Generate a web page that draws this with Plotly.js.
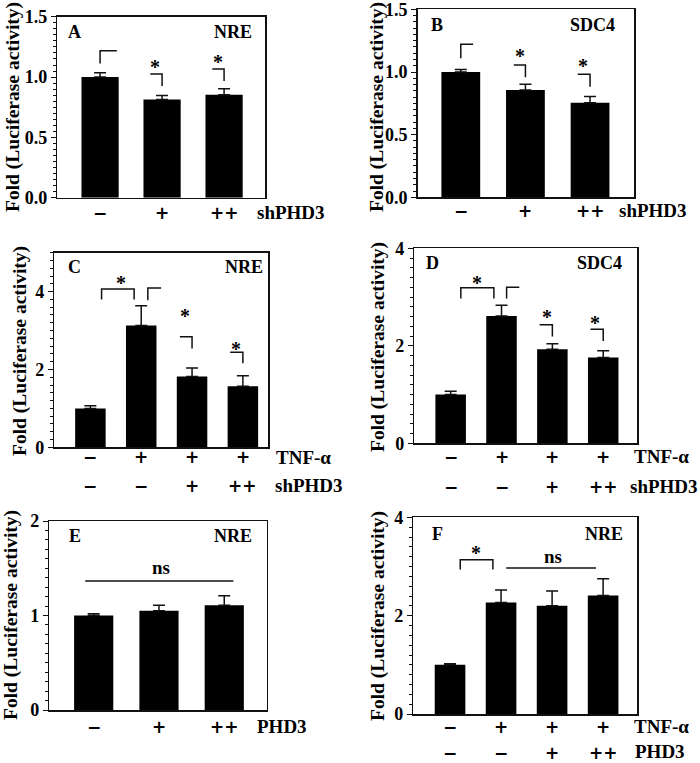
<!DOCTYPE html>
<html><head><meta charset="utf-8">
<script src="https://cdn.plot.ly/plotly-3.0.1.min.js"></script>
<style>html,body{margin:0;padding:0;background:#fff}</style>
</head><body><div id="chart" style="width:700px;height:763px"></div>
<script>
// ---------------- data ----------------
const shLabelsA = ['−', '+', '++'];
const valuesA = [1.00, 0.815, 0.853];
const errorsA = [0.036, 0.033, 0.050];

const shLabelsB = ['−', '+', '++'];
const valuesB = [1.00, 0.856, 0.755];
const errorsB = [0.021, 0.046, 0.050];

const tnfLabelsC = ['−', '+', '+', '+'];
const shLabelsC = ['−', '−', '+', '++'];
const valuesC = [1.00, 3.13, 1.82, 1.57];
const errorsC = [0.07, 0.51, 0.22, 0.27];

const tnfLabelsD = ['−', '+', '+', '+'];
const shLabelsD = ['−', '−', '+', '++'];
const valuesD = [1.00, 2.61, 1.93, 1.76];
const errorsD = [0.07, 0.22, 0.11, 0.14];

const phdLabelsE = ['−', '+', '++'];
const valuesE = [1.00, 1.05, 1.11];
const errorsE = [0.02, 0.06, 0.10];

const tnfLabelsF = ['−', '+', '+', '+'];
const phdLabelsF = ['−', '−', '+', '++'];
const valuesF = [1.00, 2.27, 2.20, 2.41];
const errorsF = [0.02, 0.25, 0.30, 0.34];

// significance brackets (data coordinates) and marks
const bracketsA = [[[0,1.113],[0,1.218],[0.27,1.218]], [[0.81,1.025],[1.0,1.025],[1.0,0.925]], [[1.81,1.066],[2.0,1.066],[2.0,0.967]]];
const starsA = [[0.89,1.116],[1.90,1.157]];
const bracketsB = [[[0,1.109],[0,1.221],[0.19,1.221]], [[0.82,1.056],[1.0,1.056],[1.0,0.958]], [[1.81,0.982],[2.0,0.982],[2.0,0.883]]];
const starsB = [[0.92,1.162],[1.89,1.082]];
const bracketsC = [[[0.22,3.80],[0.22,4.07],[0.86,4.07],[0.86,3.80]], [[1.13,3.78],[1.13,4.09],[1.39,4.09]], [[1.76,2.84],[2.0,2.84],[2.0,2.54]], [[2.75,2.44],[3.0,2.44],[3.0,2.16]]];
const starsC = [[0.61,4.32],[1.86,3.48],[2.86,2.63]];
const bracketsD = [[[0.2,2.97],[0.2,3.19],[0.85,3.19],[0.85,2.97]], [[1.1,2.97],[1.1,3.2],[1.35,3.2]], [[1.75,2.43],[2.0,2.43],[2.0,2.19]], [[2.75,2.34],[3.0,2.34],[3.0,2.10]]];
const starsD = [[0.52,3.38],[1.89,2.68],[2.83,2.55]];
const bracketsE = [[[-0.13,1.365],[2.14,1.365]]];
const nsE = [[1.03,1.51]];
const bracketsF = [[[0.2,2.94],[0.2,3.14],[0.84,3.14],[0.84,2.94]], [[1.1,2.97],[2.86,2.97]]];
const starsF = [[0.51,3.35]];
const nsF = [[2.01,3.20]];

// ---------------- layout helpers ----------------
const W = 700, H = 763;
const PX = x => x / W;
const PY = y => 1 - y / H;
const SERIF = 'Liberation Serif, Times New Roman, serif';
const SYM = 'DejaVu Sans';
const INK = '#111';

const panels = [
  {id:'A', gene:'NRE', box:[57.3,16.7,265,197.7], xr:[-0.69,2.66], yr:[0,1.5005], dt:0.5, mdt:0.05, fmt:'.1f',
   vals:valuesA, errs:errorsA, rows:[{labels:shLabelsA, name:'shPHD3', y:213, nx:255}],
   br:bracketsA, stars:starsA, ns:[], letter:[66,31.7], geneR:[254,31.7], yt:[13,107]},
  {id:'B', gene:'SDC4', box:[417.7,9.3,634,197.3], xr:[-0.667,2.68], yr:[0,1.5005], dt:0.5, mdt:0.05, fmt:'.1f',
   vals:valuesB, errs:errorsB, rows:[{labels:shLabelsB, name:'shPHD3', y:211, nx:616.7}],
   br:bracketsB, stars:starsB, ns:[], letter:[429,25], geneR:[616.7,25], yt:[377,107]},
  {id:'C', gene:'NRE', box:[54.3,252.7,268.3,447.3], xr:[-0.71,3.5], yr:[0,5], dt:2, mdt:0.2, fmt:'d',
   vals:valuesC, errs:errorsC, rows:[{labels:tnfLabelsC, name:'TNF-α', y:457.3, nx:274},{labels:shLabelsC, name:'shPHD3', y:485.7, nx:272.7}],
   br:bracketsC, stars:starsC, ns:[], letter:[66,266.7], geneR:[265,266.7], yt:[20,351]},
  {id:'D', gene:'SDC4', box:[414.3,248.3,637.3,443.3], xr:[-0.715,3.67], yr:[0,4.001], dt:2, mdt:0.2, fmt:'d',
   vals:valuesD, errs:errorsD, rows:[{labels:tnfLabelsD, name:'TNF-α', y:456.7, nx:631.7},{labels:shLabelsD, name:'shPHD3', y:486.7, nx:628.3}],
   br:bracketsD, stars:starsD, ns:[], letter:[424,263.3], geneR:[624,263.3], yt:[378,347]},
  {id:'E', gene:'NRE', box:[49.3,521,266.7,710], xr:[-0.68,2.65], yr:[0,2.0005], dt:1, mdt:0.1, fmt:'d',
   vals:valuesE, errs:errorsE, rows:[{labels:phdLabelsE, name:'PHD3', y:726.7, nx:255}],
   br:bracketsE, stars:[], ns:nsE, letter:[66.7,536], geneR:[254.3,536], yt:[11,615]},
  {id:'F', gene:'NRE', box:[413.3,517.3,637.3,714], xr:[-0.72,3.67], yr:[0,4.001], dt:2, mdt:0.2, fmt:'d',
   vals:valuesF, errs:errorsF, rows:[{labels:tnfLabelsF, name:'TNF-α', y:726.7, nx:631.7},{labels:phdLabelsF, name:'PHD3', y:756.7, nx:632.7}],
   br:bracketsF, stars:starsF, ns:nsF, letter:[430,534], geneR:[625,534], yt:[378,616]}
];

const traces = [];
const layout = {
  width: W, height: H, margin:{l:0,r:0,t:0,b:0},
  paper_bgcolor:'#fff', plot_bgcolor:'#fff', showlegend:false,
  font:{family:SERIF, color:'#000'},
  annotations:[], shapes:[]
};

panels.forEach((p, i) => {
  const n = i + 1;
  const xa = 'x' + n, ya = 'y' + n;
  const xk = 'xaxis' + n, yk = 'yaxis' + n;
  const [x0, y0, x1, y1] = p.box;
  const xs = p.vals.map((_, k) => k);
  traces.push({
    type:'bar', x:xs, y:p.vals, xaxis:xa, yaxis:ya, width:0.6,
    marker:{color:'#000', line:{width:0}},
    error_y:{type:'data', symmetric:false, array:p.errs, arrayminus:p.errs.map(() => 0),
             color:INK, thickness:1.5, width:6},
    hoverinfo:'skip'
  });
  layout[xk] = {domain:[PX(x0), PX(x1)], anchor:ya, range:p.xr, showticklabels:false, ticks:'',
    showgrid:false, zeroline:false, showline:true, mirror:true, linecolor:INK, linewidth:1.5, fixedrange:true};
  layout[yk] = {domain:[PY(y1), PY(y0)], anchor:xa, range:p.yr, dtick:p.dt, tick0:0, tickformat:p.fmt,
    ticks:'outside', ticklen:5, tickwidth:1, tickcolor:INK, ticklabeloverflow:'allow',
    minor:{dtick:p.mdt, tick0:0, ticks:'outside', ticklen:3, tickwidth:1, tickcolor:INK},
    tickfont:{family:SERIF, size:18, weight:'bold', color:'#000'},
    showgrid:false, zeroline:false, showline:true, mirror:true, linecolor:INK, linewidth:1.5, fixedrange:true};

  // brackets / ns lines
  p.br.forEach(pts => {
    const path = pts.map((q, k) => (k ? 'L' : 'M') + q[0] + ',' + q[1]).join(' ');
    layout.shapes.push({type:'path', xref:xa, yref:ya, path:path, line:{color:INK, width:1.5}});
  });
  p.stars.forEach(s => layout.annotations.push({xref:xa, yref:ya, x:s[0], y:s[1], text:'*', showarrow:false,
    yshift:-4, font:{family:SERIF, size:20, weight:'bold', color:'#000'}}));
  p.ns.forEach(s => layout.annotations.push({xref:xa, yref:ya, x:s[0], y:s[1], text:'ns', showarrow:false,
    font:{family:SERIF, size:19, weight:'bold', color:'#000'}}));

  // panel letter and gene label
  layout.annotations.push({xref:'paper', yref:'paper', x:PX(p.letter[0]), y:PY(p.letter[1]), xanchor:'left', yanchor:'middle',
    text:p.id, showarrow:false, font:{family:SERIF, size:18, weight:'bold', color:'#000'}});
  layout.annotations.push({xref:'paper', yref:'paper', x:PX(p.geneR[0]), y:PY(p.geneR[1]), xanchor:'right', yanchor:'middle',
    text:p.gene, showarrow:false, font:{family:SERIF, size:18, weight:'bold', color:'#000'}});

  // y title
  layout.annotations.push({xref:'paper', yref:'paper', x:PX(p.yt[0]), y:PY(p.yt[1]), xanchor:'center', yanchor:'middle',
    text:'Fold (Luciferase activity)', textangle:-90, showarrow:false, font:{family:SERIF, size:19.5, weight:'bold', color:'#000'}});

  // condition rows under the bars
  p.rows.forEach(r => {
    const low = r.y > 745;               // last row sits on the page edge
    const ay = low ? 0 : PY(r.y);
    const anc = low ? 'bottom' : 'middle';
    r.labels.forEach((t, k) => {
      layout.annotations.push({xref:xa, yref:'paper', x:k, y:ay, xanchor:'center', yanchor:anc,
        text:t, showarrow:false, yshift: low ? -2 : 0,
        font:{family:SYM, size:17, weight:'bold', color:'#000'}});
    });
    layout.annotations.push({xref:'paper', yref:'paper', x:PX(r.nx), y:ay, xanchor:'left', yanchor:anc,
      text:r.name, showarrow:false, yshift: low ? -1 : 0,
      font:{family:SERIF, size:19, weight:'bold', color:'#000'}});
  });
});

Plotly.newPlot('chart', traces, layout, {staticPlot:true, displayModeBar:false});
</script></body></html>
